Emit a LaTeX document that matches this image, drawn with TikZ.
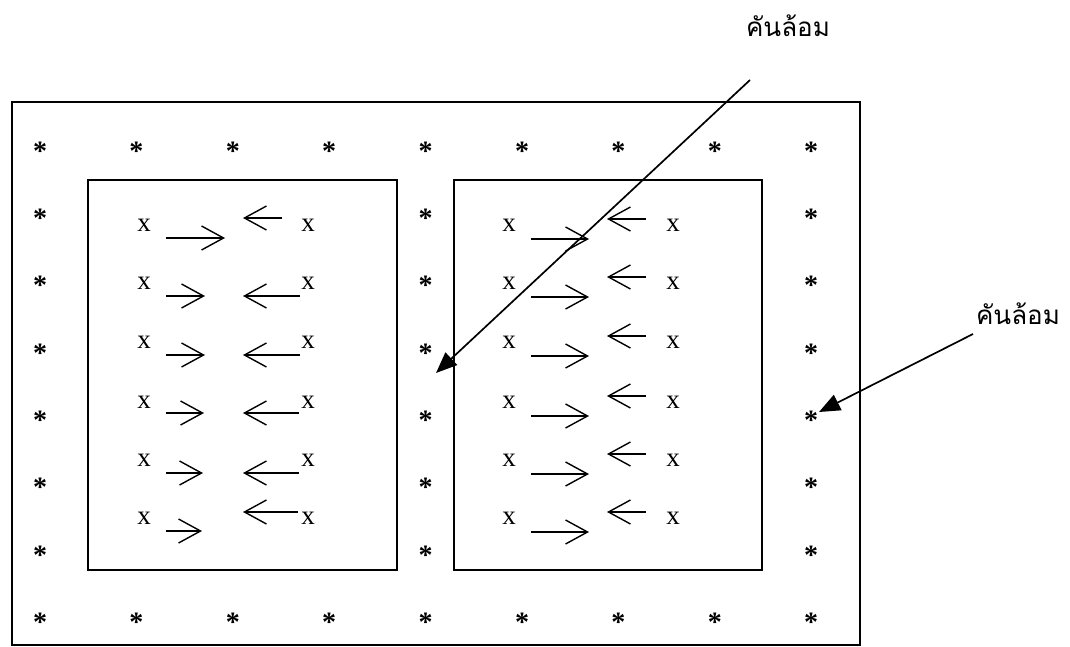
\documentclass[tikz,border=0pt]{standalone}
\usepackage{fontspec}
\setmainfont{Liberation Serif}
\newfontfamily\thaifont[Script=Thai]{Loma}
\usetikzlibrary{arrows.meta}
\tikzset{
  dike/.style={line width=1.7pt},
  flow/.style={line width=1.4pt,-{Straight Barb[length=22pt,width=24pt]}},
  callout/.style={line width=1.7pt,-{Triangle[length=21pt,width=17pt]}},
  starmark/.style={inner sep=0pt,font=\bfseries\fontsize{28}{28}\selectfont},
  crossmark/.style={inner sep=0pt,font=\fontsize{27}{27}\selectfont},
  dikelabel/.style={inner sep=0pt,font=\thaifont\fontsize{26}{30}\selectfont}
}

\begin{document}
\begin{tikzpicture}[x=1pt,y=-1pt]
    \useasboundingbox (0,0) rectangle (1070,647);
    % outer dike and the two inner plots
    \draw[dike] (12,102) rectangle (860,645);
    \draw[dike] (88,180) rectangle (397,570);
    \draw[dike] (454,180) rectangle (762,570);
    % stars along the dikes
    \foreach \c in {0,...,8} {
        \node[starmark] (st\c) at (40+96.4*\c,151) {*};
        \node[starmark] (sb\c) at (40+96.4*\c,622) {*};
    }
    \foreach \r in {1,...,6} {
        \foreach \c in {0,4,8}
            \node[starmark] (s\c-\r) at (40+96.4*\c,151+67.3*\r) {*};
    }
    % left plot
    \foreach \yx/\ya/\xa/\yb/\xb [count=\i] in {225/238/225/218/282, 283/296/205/296/300,
        342/355/205/355/300, 402/413/204/413/299, 460/473/203/473/299, 518/531/202/512/298} {
        \node[crossmark] (xl\i) at (144,\yx) {x};
        \node[crossmark] (xr\i) at (308,\yx) {x};
        \draw[flow] (166,\ya) -- (\xa,\ya);
        \draw[flow] (\xb,\yb) -- (243,\yb);
    }
    % right plot
    \foreach \yx [count=\i] in {225,283,342,402,460,518} {
        \node[crossmark] (yl\i) at (509,\yx) {x};
        \node[crossmark] (yr\i) at (673,\yx) {x};
        \draw[flow] (531,\yx+14) -- (589,\yx+14);
        \draw[flow] (646,\yx-6) -- (607,\yx-6);
    }
    % labels
    \node[dikelabel] (lblTop) at (788,26) {คันล้อม};
    \node[dikelabel] (lblSide) at (1018,314) {คันล้อม};
    \coordinate (tailTop) at (750,80);
    \coordinate (tipTop) at (436,373);
    \coordinate (tailSide) at (973,334);
    \coordinate (tipSide) at (819,412);
    \draw[callout] (tailTop) -- (tipTop);
    \draw[callout] (tailSide) -- (tipSide);
\end{tikzpicture}
\end{document}
